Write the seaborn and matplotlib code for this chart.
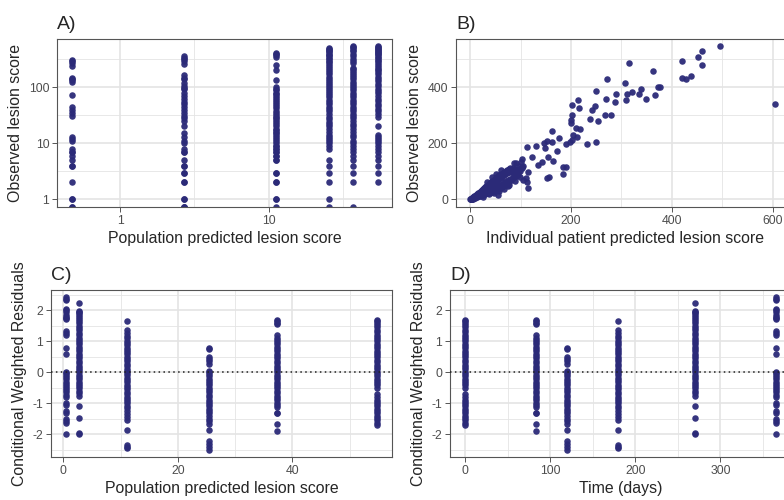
import numpy as np
import pandas as pd
import matplotlib
matplotlib.use("Agg")
import matplotlib.pyplot as plt
import seaborn as sns
from matplotlib.ticker import FixedLocator, FixedFormatter, NullFormatter, MultipleLocator

# ---------------- data ----------------
pred_levels = [0.47, 2.7, 11.2, 25.5, 37.4, 54.8]
time_levels = [365, 270, 180, 120, 84, 0]

obs_g1 = [313, 290, 275, 240, 148, 140, 135, 124, 72, 45, 40, 35, 31, 13, 12, 11,
          8, 7, 7, 6, 5, 4, 4, 2, 1, 1, 0, 0]
obs_g2 = [362, 340, 324, 295, 258, 164, 148, 139, 120, 105, 98, 92, 80, 70, 61, 55,
          50, 45, 40, 35, 31, 28, 25, 20, 15, 13, 11, 10, 8, 7, 7, 5, 4, 4, 3, 3,
          2, 2, 1, 1, 0, 0, 0]
obs_g3 = [410, 390, 370, 350, 250, 205, 135, 102, 95, 88, 80, 75, 70, 65, 60, 55,
          50, 46, 42, 38, 35, 32, 30, 28, 26, 24, 22, 20, 18, 17, 16, 15, 14, 13,
          12, 11, 10, 9, 9, 8, 8, 7, 7, 6, 6, 5, 5, 3, 3, 2, 2, 1, 1, 0]
obs_g4 = [500, 480, 460, 440, 420, 400, 380, 360, 340, 320, 300, 280, 260, 240,
          220, 200, 185, 170, 155, 140, 130, 120, 110, 100, 92, 85, 78, 72, 66, 60,
          55, 50, 45, 41, 37, 33, 30, 27, 24, 22, 20, 18, 16, 14, 13, 12, 11, 10, 9,
          8, 5, 4, 3, 2, 1, 0]
obs_g5 = [546, 520, 500, 470, 440, 400, 360, 320, 290, 270, 224, 210, 195, 180,
          165, 150, 138, 126, 115, 105, 96, 88, 80, 73, 66, 60, 55, 50, 45, 41, 37,
          34, 31, 28, 25, 22, 20, 18, 16, 14, 13, 11, 10, 9, 8, 7, 6, 5, 4, 3, 2, 0]
obs_g6 = [550, 530, 510, 490, 470, 450, 430, 410, 390, 370, 350, 330, 310, 290,
          270, 250, 230, 215, 200, 185, 170, 155, 140, 128, 116, 105, 95, 86, 78,
          70, 63, 57, 51, 46, 41, 37, 33, 29, 20, 14, 13, 12, 11, 10, 9, 8, 7, 6, 5,
          4, 3, 2]

res_g1 = [2.43, 2.38, 2.33, 2.05, 2.0, 1.95, 1.85, 1.8, 1.75, 1.72, 1.32, 1.27,
          1.22, 0.8, 0.6, 0.02, -0.02, -0.1, -0.15, -0.22, -0.3, -0.38, -0.45,
          -0.5, -0.58, -0.65, -0.72, -0.8, -1.0, -1.05, -1.25, -1.3, -1.5, -1.58,
          -1.62, -1.98]
res_g2 = [2.22, 1.98, 1.93, 1.9, 1.85, 1.8, 1.72, 1.65, 1.58, 1.5, 1.42, 1.35,
          1.28, 1.2, 1.12, 1.05, 0.98, 0.9, 0.82, 0.75, 0.68, 0.6, 0.52, 0.45,
          0.38, 0.3, 0.22, 0.15, 0.08, 0.0, -0.08, -0.15, -0.22, -0.3, -0.38,
          -0.45, -0.52, -0.6, -0.68, -0.75, -1.1, -1.48, -1.95, -2.0]
res_g3 = [1.65, 1.35, 1.28, 1.18, 1.1, 1.02, 0.95, 0.88, 0.8, 0.72, 0.65, 0.58,
          0.5, 0.42, 0.35, 0.28, 0.2, 0.12, 0.05, -0.02, -0.1, -0.18, -0.25, -0.32,
          -0.4, -0.48, -0.55, -0.62, -0.7, -0.78, -0.85, -0.92, -1.0, -1.08, -1.15,
          -1.25, -1.35, -1.45, -1.55, -1.85, -2.35, -2.42, -2.45]
res_g4 = [0.8, 0.75, 0.5, 0.42, 0.35, 0.28, 0.05, 0.0, -0.05, -0.12, -0.2, -0.28,
          -0.35, -0.42, -0.5, -0.58, -0.65, -0.72, -0.8, -0.88, -0.95, -1.02, -1.1,
          -1.18, -1.25, -1.32, -1.4, -1.5, -1.58, -1.65, -1.85, -2.22, -2.32, -2.4,
          -2.5]
res_g5 = [1.7, 1.65, 1.6, 1.55, 1.2, 1.12, 1.05, 0.98, 0.9, 0.82, 0.75, 0.68, 0.6,
          0.52, 0.45, 0.38, 0.3, 0.22, 0.15, 0.08, 0.0, -0.08, -0.15, -0.22, -0.3,
          -0.38, -0.45, -0.52, -0.6, -0.68, -0.75, -0.82, -0.9, -0.98, -1.05,
          -1.12, -1.3, -1.32, -1.65, -1.88]
res_g6 = [1.7, 1.65, 1.6, 1.52, 1.45, 1.38, 1.3, 1.22, 1.15, 1.08, 1.0, 0.92, 0.85,
          0.78, 0.7, 0.62, 0.55, 0.48, 0.4, 0.32, 0.25, 0.18, 0.1, 0.02, -0.05,
          -0.12, -0.2, -0.28, -0.35, -0.42, -0.5, -0.7, -0.8, -0.88, -0.95, -1.02,
          -1.1, -1.18, -1.25, -1.32, -1.4, -1.48, -1.55, -1.62, -1.7]

# panel B: (individual prediction, observed)
b_cluster = [
    (0.5, 0), (1, 0), (1.5, 1), (2, 0), (2.5, 2), (3, 1), (3, 4), (4, 2), (4.5, 5),
    (5, 1), (5.5, 3), (6, 7), (6.5, 4), (7, 9), (7.5, 5), (8, 11), (8.5, 6), (9, 8),
    (9.5, 13), (10, 6), (11, 9), (11.5, 15), (12, 7), (12.5, 12), (13, 18), (14, 9),
    (14.5, 14), (15, 21), (16, 10), (16.5, 17), (17, 24), (18, 12), (18.5, 19),
    (19, 27), (20, 13), (20.5, 22), (21, 30), (22, 14), (22.5, 25), (23, 33),
    (24, 16), (24.5, 28), (25, 37), (26, 17), (26.5, 31), (27, 40), (28, 18),
    (28.5, 34), (29, 43), (30, 20), (30.5, 36), (31, 46), (32, 21), (32.5, 39),
    (33, 49), (34, 22), (34.5, 42), (35, 52), (36, 24), (36.5, 45), (37, 55),
    (38, 25), (38.5, 48), (39, 58), (40, 26), (40.5, 51), (41, 61), (42, 26),
    (42.5, 54), (43, 64), (44, 27), (44.5, 57), (45, 67), (46, 28), (46.5, 60),
    (47, 70), (48, 30), (48.5, 63), (49, 73), (50, 31), (50.5, 66), (51, 76),
    (52, 33), (52.5, 69), (53, 79), (54, 35), (54.5, 72), (55, 82), (56, 37),
    (56.5, 75), (57, 85), (58, 39), (58.5, 78), (59, 88), (60, 41), (61, 81),
    (62, 91), (63, 44), (64, 84), (65, 94), (66, 47), (67, 87), (68, 97), (69, 50),
    (70, 90), (71, 100), (72, 54), (73, 93), (74, 104), (75, 46), (76, 96),
    (77, 107), (78, 60), (79, 99), (80, 110), (82, 68), (83, 102), (84, 112),
    (85, 76), (86, 105), (87, 95), (88, 84), (89, 108), (90, 100), (92, 90),
    (93, 104), (95, 96), (97, 107), (99, 100), (102, 110), (105, 118),
    (15, 14), (25, 22), (35, 31), (45, 40), (55, 50), (65, 60), (75, 68), (85, 78),
    (95, 88), (20, 18), (30, 27), (40, 36), (50, 45), (60, 55), (70, 64), (80, 74),
    (90, 83), (33, 60), (44, 78), (52, 92), (62, 104), (38, 18), (48, 24),
    (58, 30), (68, 38), (78, 50), (88, 64), (98, 80), (96, 118),
]
b_spread = [
    (494.5, 547.6), (460, 531), (451, 507), (460, 478.6), (420, 494), (420, 432),
    (427, 430), (438.5, 440), (362.6, 459.5), (315, 485.7), (271.6, 429.8),
    (306.6, 416.7), (249, 388), (290, 375), (320, 384.5), (310, 375), (339.6, 393),
    (335, 375), (373, 400), (377, 400), (366, 372.6), (348.6, 358), (270, 357),
    (309, 354.8), (287.5, 348.8), (604.6, 341.7), (201, 337), (213, 354.8),
    (216, 325), (240.6, 319), (247, 333), (237, 285.7), (253.8, 281), (201, 301),
    (199, 283), (199, 271), (209, 253.6), (217.6, 250), (267, 301), (280, 301),
    (204, 229.8), (211, 221), (201, 212), (190, 197.6), (198, 206), (231, 197.6),
    (248.6, 203.6), (161.5, 244), (161.5, 206), (176.5, 220), (151.6, 209.5),
    (130.5, 191.7), (112, 188), (148, 182), (171.4, 173.8), (155, 150), (165, 138),
    (122, 152), (102, 143), (141.7, 132), (135, 122.6), (102, 116.7), (87, 128.6),
    (184.6, 114), (191, 116.7), (183.5, 90.5), (151.6, 75), (156, 78.6), (112, 63),
    (115.4, 39.3), (105.5, 69), (56, 15.5), (26, 9.5), (91.6, 128.6), (101.5, 134),
    (114.7, 98.6), (111, 75), (146, 200),
]

# ---------------- tables ----------------
obs_groups = [obs_g1, obs_g2, obs_g3, obs_g4, obs_g5, obs_g6]
res_groups = [res_g1, res_g2, res_g3, res_g4, res_g5, res_g6]

A_YLIM = (0.73, 728)
rows_a = []
for p, g in zip(pred_levels, obs_groups):
    for v in g:
        rows_a.append({"pred": p, "obs": v if v > 0 else A_YLIM[0]})
df_a = pd.DataFrame(rows_a)

rows_c = []
for p, t, g in zip(pred_levels, time_levels, res_groups):
    for v in g:
        rows_c.append({"pred": p, "time": t, "cwres": v})
df_c = pd.DataFrame(rows_c)

df_b = pd.DataFrame(b_cluster + b_spread, columns=["ipred", "obs"])

# ---------------- style ----------------
sns.set_theme(style="white")
plt.rcParams["font.family"] = ["Liberation Sans", "DejaVu Sans"]
plt.rcParams["axes.unicode_minus"] = False

PT = "#2B2A78"
GRID = "#E4E4E4"
TICK_FS = 8.8
LAB_FS = 11.4
TITLE_FS = 14
SZ = 22

fig = plt.figure(figsize=(7.84, 5.0), dpi=100)
axA = fig.add_axes([57 / 784, 1 - 207 / 500, 335 / 784, 168 / 500])
axB = fig.add_axes([456 / 784, 1 - 207 / 500, 337 / 784, 168 / 500])
axC = fig.add_axes([51 / 784, 1 - 457 / 500, 341 / 784, 167 / 500])
axD = fig.add_axes([450 / 784, 1 - 457 / 500, 341 / 784, 167 / 500])


def style(ax):
    ax.set_facecolor("white")
    ax.set_axisbelow(True)
    ax.grid(which="major", color=GRID, lw=1.2)
    ax.grid(which="minor", color=GRID, lw=0.6)
    for s in ax.spines.values():
        s.set_visible(True)
        s.set_color("#555555")
        s.set_linewidth(0.8)
    ax.tick_params(which="major", length=3.5, width=0.7, color="#555555",
                   labelcolor="#4D4D4D", labelsize=TICK_FS, pad=2,
                   bottom=True, left=True)
    ax.tick_params(which="minor", length=0, bottom=False, left=False)


# Panel A
sns.scatterplot(data=df_a, x="pred", y="obs", ax=axA, color=PT, s=SZ,
                linewidth=0, alpha=0.95)
axA.set_xscale("log")
axA.set_yscale("log")
axA.set_xlim(0.375, 68)
axA.set_ylim(*A_YLIM)
axA.xaxis.set_major_locator(FixedLocator([1, 10]))
axA.xaxis.set_major_formatter(FixedFormatter(["1", "10"]))
axA.xaxis.set_minor_locator(FixedLocator([10 ** 0.5, 10 ** 1.5]))
axA.xaxis.set_minor_formatter(NullFormatter())
axA.yaxis.set_major_locator(FixedLocator([1, 10, 100]))
axA.yaxis.set_major_formatter(FixedFormatter(["1", "10", "100"]))
axA.yaxis.set_minor_locator(FixedLocator([10 ** 0.5, 10 ** 1.5, 10 ** 2.5]))
axA.yaxis.set_minor_formatter(NullFormatter())
style(axA)
axA.set_xlabel("Population predicted lesion score", fontsize=LAB_FS)
axA.set_ylabel("Observed lesion score", fontsize=LAB_FS)
axA.set_title("A)", loc="left", fontsize=TITLE_FS, pad=7)

# Panel B
sns.scatterplot(data=df_b, x="ipred", y="obs", ax=axB, color=PT, s=SZ,
                linewidth=0, alpha=0.95)
axB.set_xlim(-28, 640)
axB.set_ylim(-27.5, 572.5)
axB.xaxis.set_major_locator(MultipleLocator(200))
axB.xaxis.set_minor_locator(FixedLocator([100, 300, 500]))
axB.yaxis.set_major_locator(MultipleLocator(200))
axB.yaxis.set_minor_locator(FixedLocator([100, 300, 500]))
style(axB)
axB.set_xlabel("Individual patient predicted lesion score", fontsize=LAB_FS)
axB.set_ylabel("Observed lesion score", fontsize=LAB_FS)
axB.set_title("B)", loc="left", fontsize=TITLE_FS, pad=7)

# Panel C
sns.scatterplot(data=df_c, x="pred", y="cwres", ax=axC, color=PT, s=SZ,
                linewidth=0, alpha=0.95)
axC.axhline(0, color="#222222", ls=(0, (1, 2.2)), lw=1.1, zorder=3)
axC.set_xlim(-2.15, 57.4)
axC.set_ylim(-2.73, 2.655)
axC.xaxis.set_major_locator(FixedLocator([0, 20, 40]))
axC.xaxis.set_minor_locator(FixedLocator([10, 30, 50]))
axC.yaxis.set_major_locator(FixedLocator([-2, -1, 0, 1, 2]))
axC.yaxis.set_minor_locator(FixedLocator([-2.5, -1.5, -0.5, 0.5, 1.5, 2.5]))
style(axC)
axC.set_xlabel("Population predicted lesion score", fontsize=LAB_FS)
axC.set_ylabel("Conditional Weighted Residuals", fontsize=LAB_FS)
axC.set_title("C)", loc="left", fontsize=TITLE_FS, pad=7)

# Panel D
sns.scatterplot(data=df_c, x="time", y="cwres", ax=axD, color=PT, s=SZ,
                linewidth=0, alpha=0.95)
axD.axhline(0, color="#222222", ls=(0, (1, 2.2)), lw=1.1, zorder=3)
axD.set_xlim(-17.6, 383)
axD.set_ylim(-2.73, 2.655)
axD.xaxis.set_major_locator(FixedLocator([0, 100, 200, 300]))
axD.xaxis.set_minor_locator(FixedLocator([50, 150, 250, 350]))
axD.yaxis.set_major_locator(FixedLocator([-2, -1, 0, 1, 2]))
axD.yaxis.set_minor_locator(FixedLocator([-2.5, -1.5, -0.5, 0.5, 1.5, 2.5]))
style(axD)
axD.set_xlabel("Time (days)", fontsize=LAB_FS)
axD.set_ylabel("Conditional Weighted Residuals", fontsize=LAB_FS)
axD.set_title("D)", loc="left", fontsize=TITLE_FS, pad=7)

for ax in (axA, axB, axC, axD):
    ax.xaxis.labelpad = 3
    ax.yaxis.labelpad = 4

fig.savefig("out.png", dpi=100)
